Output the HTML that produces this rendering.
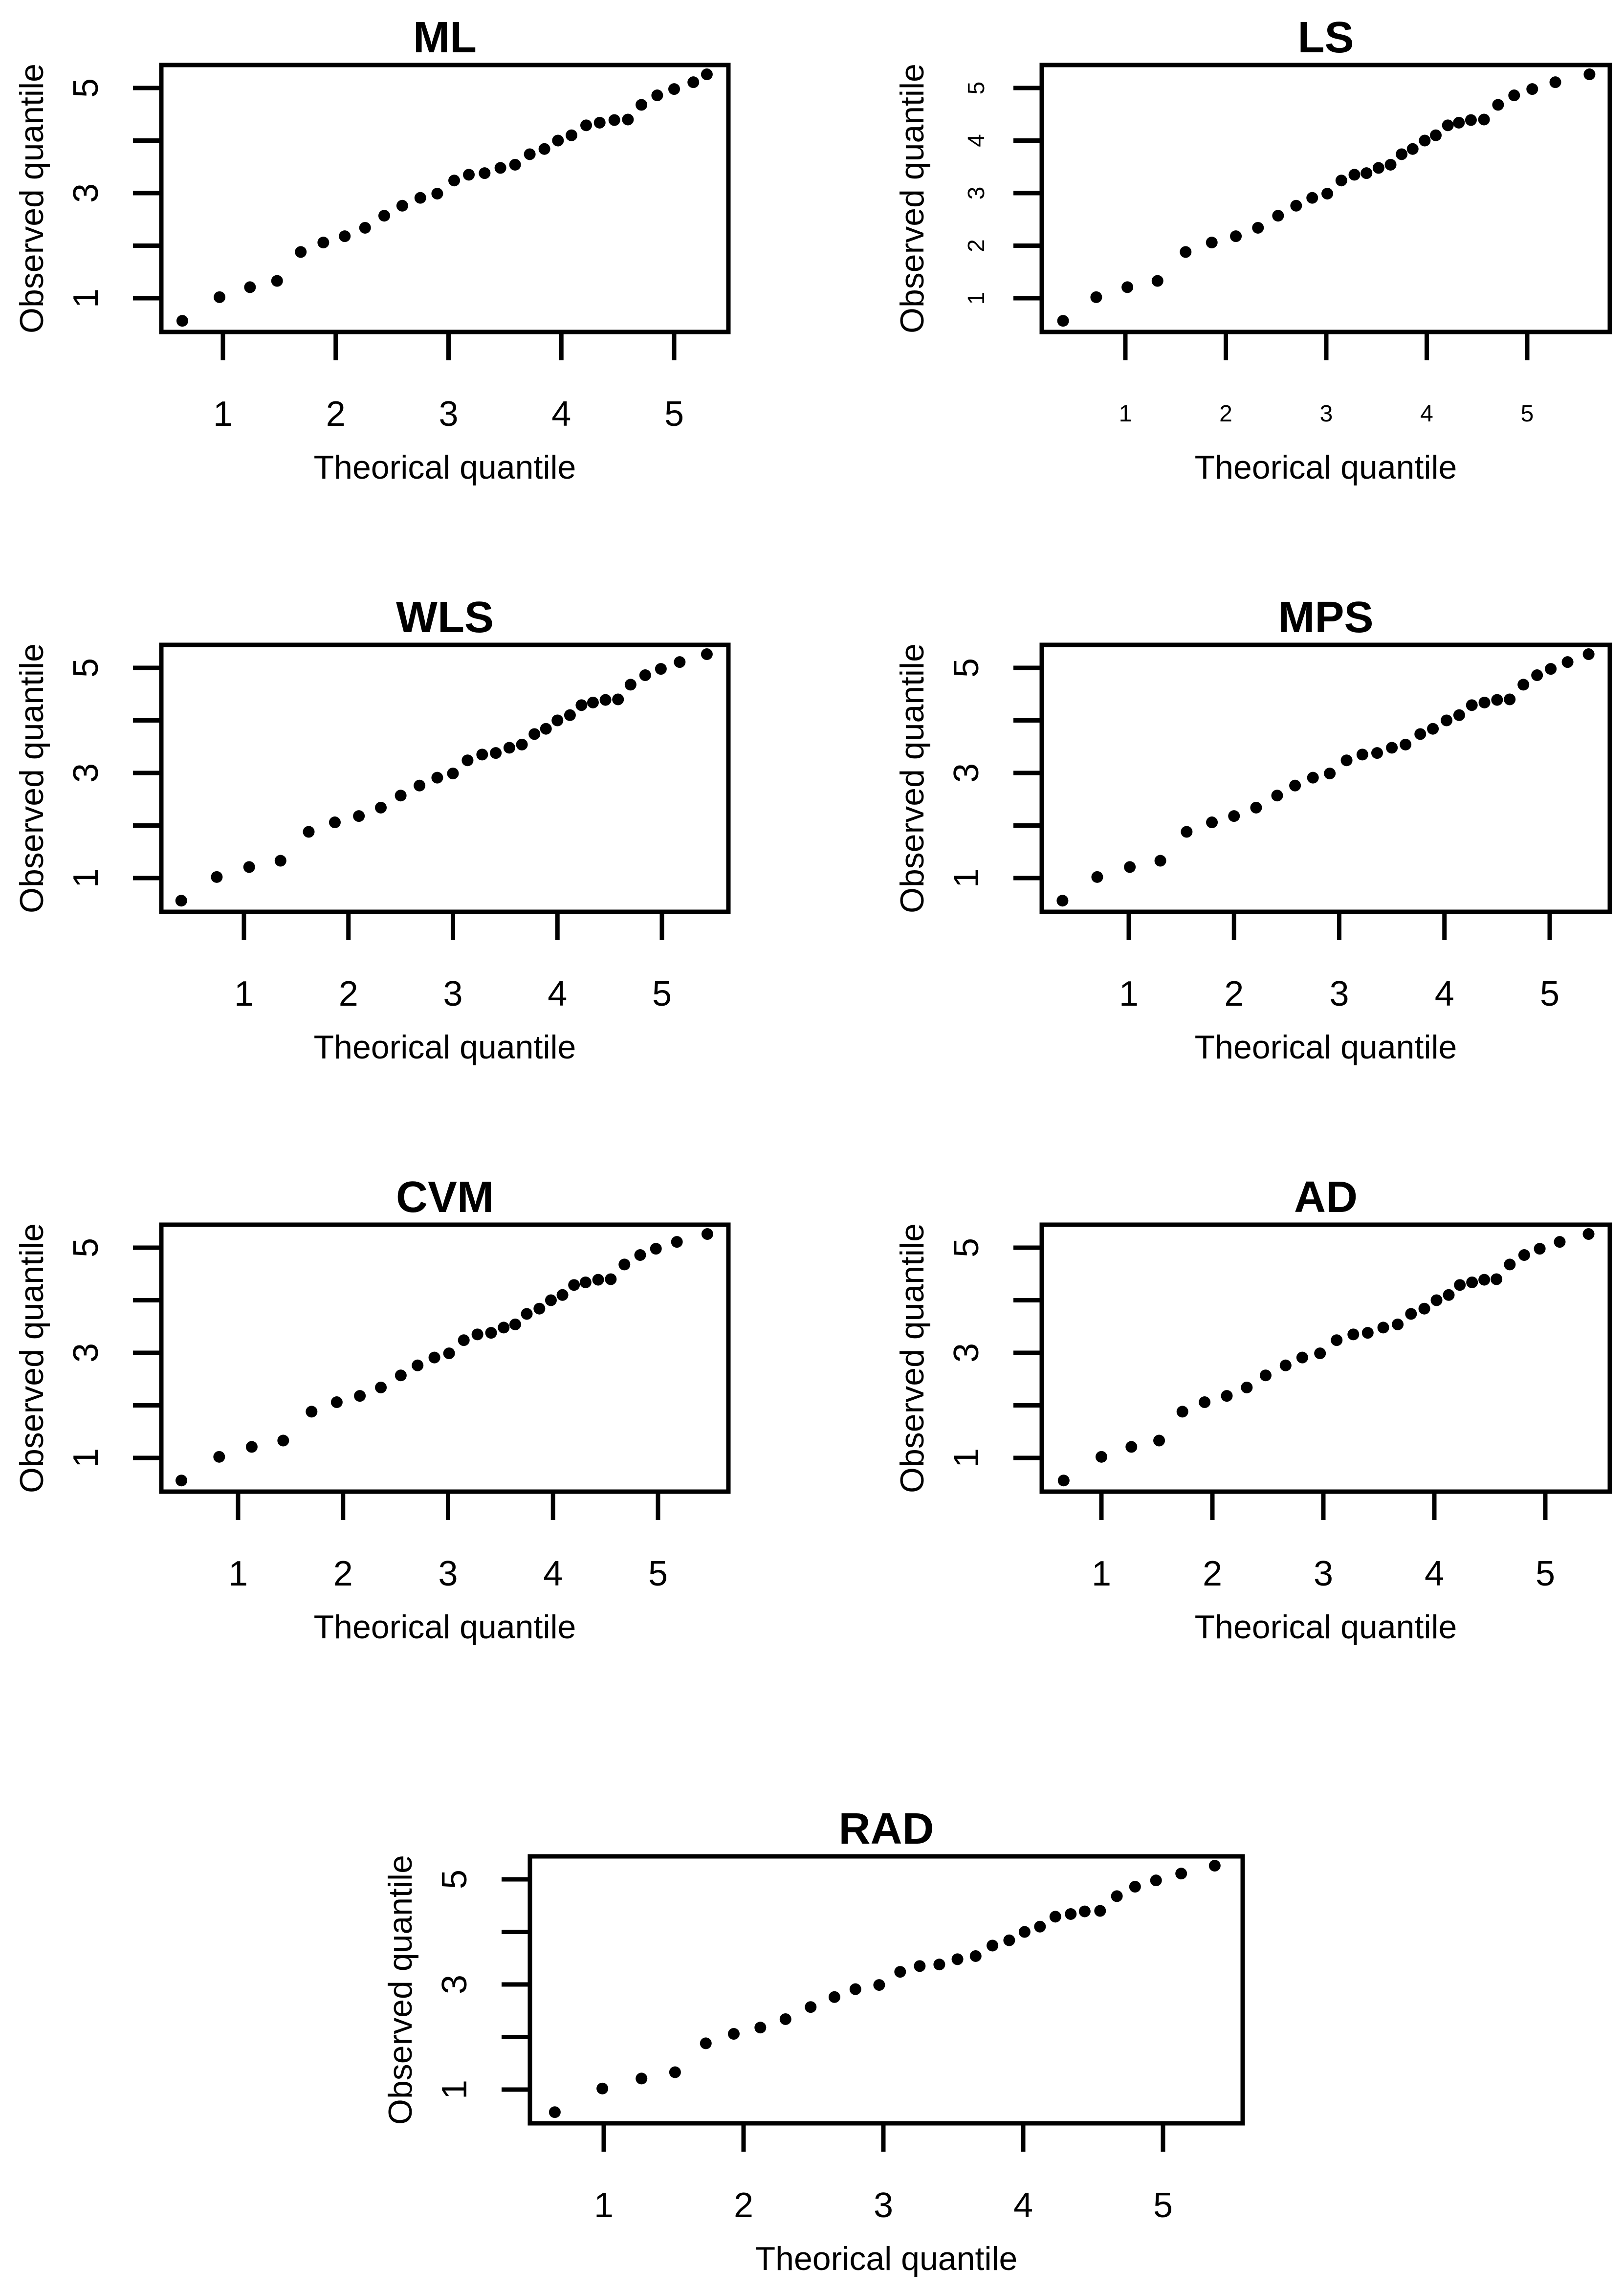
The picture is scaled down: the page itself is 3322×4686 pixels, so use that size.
<!DOCTYPE html>
<html><head><meta charset="utf-8">
<style>
html,body{margin:0;padding:0;background:#fff;}
svg{display:block;font-family:"Liberation Sans",Arial,sans-serif;}
</style></head>
<body>
<svg id="fig" width="3322" height="4686" viewBox="0 0 3322 4686" xmlns="http://www.w3.org/2000/svg"></svg>
<script>
const observed = [0.57,1.02,1.21,1.33,1.88,2.06,2.18,2.34,2.57,2.76,2.91,2.99,3.24,3.35,3.38,3.48,3.54,3.74,3.84,4.00,4.10,4.29,4.34,4.39,4.40,4.68,4.86,4.98,5.11,5.26];
const theoML  = [0.64,0.97,1.24,1.48,1.69,1.89,2.08,2.26,2.43,2.59,2.75,2.90,3.05,3.18,3.32,3.46,3.59,3.72,3.85,3.97,4.09,4.22,4.34,4.47,4.59,4.71,4.85,5.00,5.17,5.29];
const theoLS  = [0.38,0.71,1.02,1.32,1.60,1.86,2.10,2.32,2.52,2.70,2.86,3.01,3.15,3.28,3.40,3.52,3.64,3.75,3.86,3.98,4.09,4.21,4.32,4.44,4.57,4.71,4.87,5.05,5.28,5.62];
const theoWLS = [0.40,0.74,1.05,1.35,1.62,1.87,2.10,2.31,2.50,2.68,2.85,3.00,3.14,3.28,3.41,3.54,3.66,3.78,3.89,4.00,4.12,4.23,4.34,4.46,4.58,4.70,4.84,4.99,5.17,5.43];
const theoMPS = [0.37,0.70,1.01,1.30,1.55,1.79,2.00,2.21,2.41,2.58,2.75,2.91,3.07,3.22,3.36,3.50,3.63,3.77,3.89,4.02,4.14,4.26,4.38,4.50,4.62,4.75,4.88,5.01,5.17,5.37];
const theoCVM = [0.46,0.82,1.13,1.43,1.70,1.94,2.16,2.36,2.55,2.71,2.87,3.01,3.15,3.28,3.41,3.53,3.64,3.75,3.87,3.98,4.09,4.20,4.31,4.43,4.55,4.68,4.83,4.98,5.18,5.47];
const theoAD  = [0.66,1.00,1.27,1.52,1.73,1.93,2.13,2.31,2.48,2.66,2.81,2.97,3.12,3.27,3.40,3.54,3.67,3.79,3.91,4.02,4.13,4.23,4.34,4.45,4.56,4.68,4.81,4.95,5.13,5.39];
const theoRAD = [0.65,0.99,1.27,1.51,1.73,1.93,2.12,2.30,2.48,2.65,2.80,2.97,3.12,3.26,3.40,3.53,3.66,3.78,3.90,4.01,4.12,4.23,4.34,4.44,4.55,4.67,4.80,4.95,5.13,5.37];
const xTicks = [1,2,3,4,5];
const yTicks = [1,2,3,4,5];
const titles = ["ML","LS","WLS","MPS","CVM","AD","RAD"];

const NS="http://www.w3.org/2000/svg";
const svg=document.getElementById('fig');
function mk(tag,attrs,parent){const e=document.createElementNS(NS,tag);for(const k in attrs)e.setAttribute(k,attrs[k]);(parent||svg).appendChild(e);return e;}

const panels=[
 {t:0,d:theoML, L:330,R:1490,T:133,x1:456,x5:1379,small:false},
 {t:1,d:theoLS, L:2131,R:3293,T:133,x1:2302,x5:3124,small:true},
 {t:2,d:theoWLS,L:330,R:1490,T:1319,x1:499,x5:1354,small:false},
 {t:3,d:theoMPS,L:2131,R:3293,T:1319,x1:2309,x5:3170,small:false},
 {t:4,d:theoCVM,L:330,R:1490,T:2505,x1:487,x5:1346,small:false},
 {t:5,d:theoAD, L:2131,R:3293,T:2505,x1:2253,x5:3161,small:false},
 {t:6,d:theoRAD,L:1084,R:2542,T:3797,x1:1235,x5:2379,small:false}
];

panels.forEach(p=>{
  const B=p.T+546;
  const name=titles[p.t].toLowerCase();
  const g=mk('g',{});
  
  
  const xs=v=>p.x1+(v-1)*(p.x5-p.x1)/4;
  const ys=v=>p.T+47+(5-v)*107.5;
  const cx=(p.L+p.R)/2;

  const title=mk('text',{x:cx,y:p.T-26,'text-anchor':'middle','font-size':90,'font-weight':'bold'},g);
  title.textContent=titles[p.t];
  
  

  const box=mk('rect',{x:p.L,y:p.T,width:p.R-p.L,height:B-p.T,fill:'none',stroke:'#000','stroke-width':9},g);
  
  

  const xa=mk('g',{},g);
  
  
  xTicks.forEach(v=>{
    const x=xs(v);
    mk('line',{x1:x,y1:B,x2:x,y2:B+58,stroke:'#000','stroke-width':9},xa);
    const tl=mk('text',{x:x,y:B+(p.small?183:192),'text-anchor':'middle','font-size':p.small?48:72},xa);
    tl.textContent=v;
    
    
  });
  const xl=mk('text',{x:cx,y:B+300,'text-anchor':'middle','font-size':68},g);
  xl.textContent='Theorical quantile';
  
  

  const ya=mk('g',{},g);
  
  
  yTicks.forEach(v=>{
    const y=ys(v);
    mk('line',{x1:p.L-58,y1:y,x2:p.L,y2:y,stroke:'#000','stroke-width':9},ya);
    if(p.small || v%2===1){
      const lx=p.L-(p.small?118:130);
      const tl=mk('text',{x:lx,y:y,'text-anchor':'middle','font-size':p.small?48:72,transform:`rotate(-90 ${lx} ${y})`},ya);
      tl.textContent=v;
      
      
    }
  });
  const ylx=p.L-242, yly=(p.T+B)/2;
  const yl=mk('text',{x:ylx,y:yly,'text-anchor':'middle','font-size':68,transform:`rotate(-90 ${ylx} ${yly})`},g);
  yl.textContent='Observed quantile';
  
  

  p.d.forEach((tv,i)=>{
    const c=mk('circle',{cx:xs(tv),cy:ys(observed[i]),r:12,fill:'#000'},g);
    
    
  });
});
</script>
</body></html>
